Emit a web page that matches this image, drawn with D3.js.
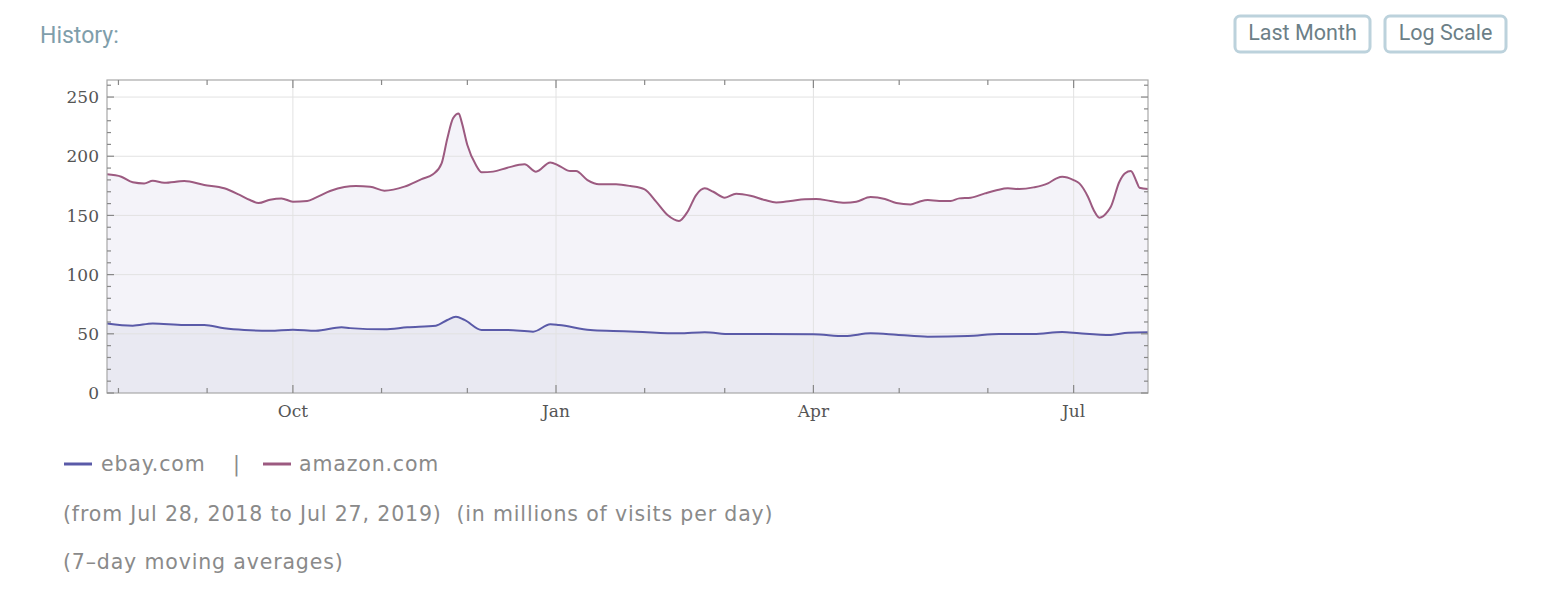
<!DOCTYPE html>
<html lang="en">

<head>
    <meta charset="UTF-8">
    <title>History</title>
    <script src="https://d3js.org/d3.v7.min.js"></script>
    <style>
        body { margin: 0; background: #fff; }
        .grid line { stroke: #e2e2e2; stroke-width: 1px; }
        .frame { fill: none; stroke: #a8a8a8; stroke-width: 1.2px; }
        .tick-mark { stroke: #888; stroke-width: 1.2px; }
        .axis-label { font: 17px "DejaVu Serif", serif; fill: #555; }
        .note { font: 20.5px "DejaVu Sans", sans-serif; fill: #8a8a8a; letter-spacing: 0.85px; }
    </style>
</head>

<body>
    <svg id="chart" width="1544" height="598"></svg>

    <script>
        // series data: day offset from Jul 28, 2018 and value (millions of visits per day)
        const amazonDays = [0, 5, 9, 13, 16, 20, 27, 34, 41, 46, 50, 53, 57, 61, 65, 70, 73, 78, 83, 87, 92, 97, 104, 110, 114, 117, 119, 121, 123, 124, 126, 129, 131, 135, 140, 146, 150, 155, 158, 162, 164, 168, 172, 178, 183, 188, 192, 196, 200, 203, 206, 209, 212, 216, 220, 225, 230, 234, 239, 244, 248, 253, 258, 262, 267, 272, 276, 281, 284, 287, 291, 295, 298, 302, 307, 311, 315, 319, 324, 329, 332, 334, 338, 340, 343, 345, 347, 350, 351, 354, 356, 358, 360, 361, 364];
        const amazonValues = [184.7, 182.7, 178, 177, 179.3, 177.6, 179, 175.7, 172.9, 167.8, 163, 160.5, 163.3, 164.4, 161.6, 162.2, 165, 170.6, 174, 174.8, 174.3, 170.9, 174.3, 180.7, 184.7, 194, 215, 232, 236.2, 229, 209.5, 192.6, 186.4, 187, 190.3, 193.2, 187, 194.8, 192, 187.5, 187.5, 179.9, 176.3, 176.3, 174.8, 172, 161.6, 150.3, 145.3, 153.1, 167.2, 172.9, 170, 165, 168.3, 166.6, 163, 161, 162.2, 163.6, 163.9, 162.2, 160.7, 161.6, 165.5, 163.9, 160.5, 159.3, 161.6, 163, 162.2, 162.2, 164.4, 165, 168.6, 171.2, 172.9, 172.3, 173.7, 177.1, 181.3, 182.7, 179.9, 177.1, 165.8, 154.6, 148.1, 153.7, 157.4, 178.5, 185.6, 187.5, 178.5, 173.4, 172.3];

        const ebayDays = [0, 9, 16, 27, 34, 41, 48, 57, 65, 73, 82, 85, 97, 105, 115, 119, 122, 125, 131, 140, 149, 155, 158, 169, 177, 185, 200, 209, 218, 230, 247, 258, 267, 276, 287, 301, 312, 324, 334, 340, 351, 357, 364];
        const ebayValues = [58.8, 56.9, 58.8, 57.4, 57.4, 54.6, 53.2, 52.6, 53.5, 52.6, 55.5, 54.8, 53.8, 55.5, 56.9, 61.7, 64.4, 61.7, 53.2, 53.2, 51.8, 58, 57.4, 53.2, 52.4, 51.8, 50.4, 51.3, 49.8, 49.8, 49.6, 48.1, 50.4, 49.3, 47.6, 48.1, 49.8, 49.8, 51.5, 50.4, 49, 50.9, 51.3];

        const yTicks = [0, 50, 100, 150, 200, 250];
        const majorMonths = [0, 3, 6, 9]; // Jan, Apr, Jul, Oct
        const seriesNames = ["ebay.com", "amazon.com"];
        const seriesColors = ["#5a5aa8", "#9c5a80"];
        const notes = ["(from Jul 28, 2018 to Jul 27, 2019)\u00a0\u00a0(in millions of visits per day)", "(7\u2013day moving averages)"];

        const start = new Date(2018, 6, 28);
        const end = new Date(2019, 6, 27);

        const svg = d3.select("#chart");

        const plotLeft = 107, plotRight = 1148, plotTop = 80, plotBottom = 393;

        const x = d3.scaleTime().domain([start, end]).range([plotLeft, plotRight]);
        const y = d3.scaleLinear().domain([0, 264.4]).range([plotBottom, plotTop]);

        const toPoints = (days, vals) => days.map((d, i) => ({ date: d3.timeDay.offset(start, d), v: vals[i] }));
        const amazon = toPoints(amazonDays, amazonValues);
        const ebay = toPoints(ebayDays, ebayValues);

        // header
        svg.append("text")
            .attr("x", 40).attr("y", 43)
            .style("font", "23px Roboto, sans-serif")
            .style("fill", "#7f9eab")
            .text("History:");

        const buttons = [{ label: "Last Month", x: 1235, w: 135 }, { label: "Log Scale", x: 1385, w: 121 }];
        const btn = svg.selectAll(".btn").data(buttons).enter().append("g").attr("class", "btn");
        btn.append("rect")
            .attr("x", d => d.x).attr("y", 16)
            .attr("width", d => d.w).attr("height", 36)
            .attr("rx", 5)
            .attr("fill", "#fff")
            .attr("stroke", "#bcd2dc")
            .attr("stroke-width", 3);
        btn.append("text")
            .attr("x", d => d.x + d.w / 2).attr("y", 40)
            .attr("text-anchor", "middle")
            .style("font", "21.5px Roboto, sans-serif")
            .style("fill", "#6c7f87")
            .text(d => d.label);

        // areas
        const area = d3.area().curve(d3.curveMonotoneX)
            .x(d => x(d.date)).y0(y(0)).y1(d => y(d.v));
        svg.append("path").datum(amazon).attr("d", area).attr("fill", "#f4f3f9");
        svg.append("path").datum(ebay).attr("d", area).attr("fill", "#e9e9f2");

        // grid
        const months = d3.timeMonth.range(d3.timeMonth.ceil(start), end);
        const isMajor = m => majorMonths.includes(m.getMonth());
        const majors = months.filter(isMajor);
        const grid = svg.append("g").attr("class", "grid");
        grid.selectAll(".h").data(yTicks.slice(1)).enter().append("line")
            .attr("x1", plotLeft).attr("x2", plotRight)
            .attr("y1", d => y(d)).attr("y2", d => y(d));
        grid.selectAll(".v").data(majors).enter().append("line")
            .attr("x1", d => x(d)).attr("x2", d => x(d))
            .attr("y1", plotTop).attr("y2", plotBottom);

        // lines
        const line = d3.line().curve(d3.curveMonotoneX)
            .x(d => x(d.date)).y(d => y(d.v));
        svg.append("path").datum(amazon).attr("d", line)
            .attr("fill", "none").attr("stroke", seriesColors[1]).attr("stroke-width", 2);
        svg.append("path").datum(ebay).attr("d", line)
            .attr("fill", "none").attr("stroke", seriesColors[0]).attr("stroke-width", 2);

        // frame
        svg.append("rect").attr("class", "frame")
            .attr("x", plotLeft).attr("y", plotTop)
            .attr("width", plotRight - plotLeft).attr("height", plotBottom - plotTop);

        // frame ticks: months on top and bottom
        const ticks = svg.append("g");
        months.forEach(m => {
            const len = isMajor(m) ? 8 : 5;
            ticks.append("line").attr("class", "tick-mark")
                .attr("x1", x(m)).attr("x2", x(m))
                .attr("y1", plotBottom).attr("y2", plotBottom - len);
            ticks.append("line").attr("class", "tick-mark")
                .attr("x1", x(m)).attr("x2", x(m))
                .attr("y1", plotTop).attr("y2", plotTop + len);
        });

        // frame ticks: values on left and right
        d3.range(0, 261, 10).forEach(v => {
            const len = v % 50 === 0 ? 7 : 4;
            ticks.append("line").attr("class", "tick-mark")
                .attr("x1", plotLeft).attr("x2", plotLeft + len)
                .attr("y1", y(v)).attr("y2", y(v));
            ticks.append("line").attr("class", "tick-mark")
                .attr("x1", plotRight).attr("x2", plotRight - len)
                .attr("y1", y(v)).attr("y2", y(v));
        });

        // tick labels
        svg.selectAll(".ylab").data(yTicks).enter().append("text")
            .attr("class", "axis-label")
            .attr("x", plotLeft - 8).attr("y", d => y(d))
            .attr("dy", "0.36em")
            .attr("text-anchor", "end")
            .text(d => d);

        svg.selectAll(".xlab").data(majors).enter().append("text")
            .attr("class", "axis-label")
            .attr("x", d => x(d)).attr("y", plotBottom + 24)
            .attr("text-anchor", "middle")
            .text(d3.timeFormat("%b"));

        // legend
        const lg = svg.append("g");
        lg.append("line").attr("x1", 64).attr("x2", 92).attr("y1", 464).attr("y2", 464)
            .attr("stroke", seriesColors[0]).attr("stroke-width", 3);
        lg.append("text").attr("class", "note").attr("x", 101).attr("y", 471).text(seriesNames[0]);
        lg.append("text").attr("class", "note").attr("x", 233).attr("y", 471).text("|");
        lg.append("line").attr("x1", 263).attr("x2", 291).attr("y1", 464).attr("y2", 464)
            .attr("stroke", seriesColors[1]).attr("stroke-width", 3);
        lg.append("text").attr("class", "note").attr("x", 299).attr("y", 471).text(seriesNames[1]);

        svg.selectAll(".notes").data(notes).enter().append("text")
            .attr("class", "note")
            .attr("x", 63).attr("y", (d, i) => 521 + i * 48)
            .text(d => d);
    </script>
</body>

</html>
